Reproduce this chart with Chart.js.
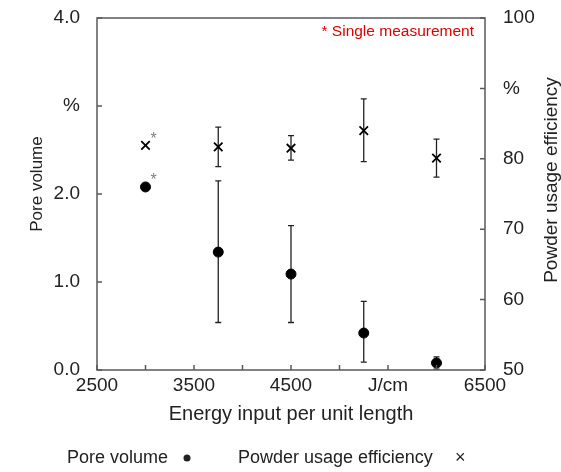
<!DOCTYPE html>
<html>
<head>
<meta charset="utf-8">
<script src="https://cdn.jsdelivr.net/npm/chart.js@4.4.1/dist/chart.umd.min.js"></script>
<style>
  html, body { margin: 0; padding: 0; background: #fff; }
  #wrap { width: 561px; height: 472px; }
</style>
</head>
<body>
<div id="wrap"><canvas id="chart" width="561" height="472"></canvas></div>
<script>
// datos
const energy = [3000, 3750, 4500, 5250, 6000];
const poreVolume = [2.08, 1.34, 1.09, 0.42, 0.08];
const poreLow = [null, 0.54, 0.54, 0.09, 0.01];
const poreHigh = [null, 2.15, 1.64, 0.78, 0.15];
const powderEff = [81.9, 81.7, 81.5, 84.0, 80.1];
const effLow = [null, 78.9, 79.8, 79.6, 77.4];
const effHigh = [null, 84.5, 83.3, 88.5, 82.8];

const FONT = "'Liberation Sans', Arial, sans-serif";
const TXT = "#222";

// barras de error con las escalas del grafico
const errorBars = {
  id: "errorBars",
  beforeDatasetsDraw(chart) {
    const { ctx, scales } = chart;
    const sets = [
      { low: poreLow, high: poreHigh, y: scales.y },
      { low: effLow, high: effHigh, y: scales.y1 },
    ];
    ctx.save();
    ctx.strokeStyle = "#222";
    ctx.lineWidth = 1.3;
    sets.forEach((s) => {
      energy.forEach((e, i) => {
        if (s.low[i] == null) return;
        const x = scales.x.getPixelForValue(e);
        const y1 = s.y.getPixelForValue(s.low[i]);
        const y2 = s.y.getPixelForValue(s.high[i]);
        ctx.beginPath();
        ctx.moveTo(x, y1); ctx.lineTo(x, y2);
        ctx.moveTo(x - 3, y1); ctx.lineTo(x + 3, y1);
        ctx.moveTo(x - 3, y2); ctx.lineTo(x + 3, y2);
        ctx.stroke();
      });
    });
    ctx.restore();
  },
};

// marco, ticks interiores, textos y leyenda
const decor = {
  id: "decor",
  afterDraw(chart) {
    const { ctx, chartArea: a, scales } = chart;
    ctx.save();
    ctx.strokeStyle = "#595959";
    ctx.lineWidth = 1.5;
    ctx.strokeRect(a.left, a.top, a.right - a.left, a.bottom - a.top);

    ctx.beginPath();
    scales.x.ticks.forEach((t) => {
      const x = scales.x.getPixelForValue(t.value);
      ctx.moveTo(x, a.bottom); ctx.lineTo(x, a.bottom - 5);
    });
    scales.y.ticks.forEach((t) => {
      const y = scales.y.getPixelForValue(t.value);
      ctx.moveTo(a.left, y); ctx.lineTo(a.left + 5, y);
    });
    scales.y1.ticks.forEach((t) => {
      const y = scales.y1.getPixelForValue(t.value);
      ctx.moveTo(a.right, y); ctx.lineTo(a.right - 5, y);
    });
    ctx.stroke();

    // nota en rojo
    ctx.fillStyle = "#e00000";
    ctx.font = "15.5px " + FONT;
    ctx.textAlign = "right";
    ctx.textBaseline = "middle";
    ctx.fillText("* Single measurement", a.right - 11, 32);

    // asteriscos grises
    ctx.fillStyle = "#808080";
    ctx.textAlign = "left";
    ctx.font = "16px " + FONT;
    const ax = scales.x.getPixelForValue(energy[0]);
    ctx.fillText("*", ax + 5, scales.y.getPixelForValue(poreVolume[0]) - 6);
    ctx.fillText("*", ax + 5, scales.y1.getPixelForValue(powderEff[0]) - 6);

    ctx.fillStyle = TXT;
    ctx.textAlign = "center";

    // titulo eje izquierdo
    ctx.font = "17px " + FONT;
    ctx.save();
    ctx.translate(37, 184);
    ctx.rotate(-Math.PI / 2);
    ctx.fillText("Pore volume", 0, 0);
    ctx.restore();

    // titulo eje derecho
    ctx.font = "19px " + FONT;
    ctx.save();
    ctx.translate(552, 180);
    ctx.rotate(-Math.PI / 2);
    ctx.fillText("Powder usage efficiency", 0, 0);
    ctx.restore();

    // leyenda
    ctx.font = "18px " + FONT;
    ctx.textAlign = "left";
    ctx.fillText("Pore volume", 67, 458);
    ctx.beginPath();
    ctx.arc(187, 458, 3.5, 0, Math.PI * 2);
    ctx.fill();
    ctx.fillText("Powder usage efficiency", 238, 458);
    ctx.fillText("\u00d7", 455, 458);
    ctx.restore();
  },
};

// ancho fijo del eje y sin relleno extra arriba/abajo
function fixY(width) {
  return (s) => {
    s.width = width;
    s.paddingTop = 0;
    s.paddingBottom = 0;
  };
}

new Chart(document.getElementById("chart"), {
  type: "scatter",
  data: {
    datasets: [
      {
        label: "Pore volume",
        data: energy.map((e, i) => ({ x: e, y: poreVolume[i] })),
        yAxisID: "y",
        pointStyle: "circle",
        pointRadius: 5,
        backgroundColor: "#000",
        borderColor: "#000",
      },
      {
        label: "Powder usage efficiency",
        data: energy.map((e, i) => ({ x: e, y: powderEff[i] })),
        yAxisID: "y1",
        pointStyle: "crossRot",
        pointRadius: 6,
        borderWidth: 1.8,
        borderColor: "#000",
        backgroundColor: "#000",
      },
    ],
  },
  options: {
    responsive: false,
    animation: false,
    layout: { padding: { top: 18, bottom: 42, left: 0, right: 0 } },
    plugins: { legend: { display: false }, tooltip: { enabled: false } },
    scales: {
      x: {
        type: "linear",
        min: 2500,
        max: 6500,
        afterFit: (s) => { s.height = 60; },
        grid: { display: false, drawTicks: false },
        border: { display: false },
        ticks: {
          stepSize: 500,
          autoSkip: false,
          maxRotation: 0,
          padding: 4,
          color: TXT,
          font: { family: FONT, size: 19 },
          callback: (v) => (v === 5500 ? "J/cm" : v % 1000 === 500 ? String(v) : ""),
        },
        title: {
          display: true,
          text: "Energy input per unit length",
          color: TXT,
          font: { family: FONT, size: 20, lineHeight: 1 },
          padding: { top: 0, bottom: 6 },
        },
      },
      y: {
        position: "left",
        min: 0,
        max: 4,
        afterFit: fixY(97),
        grid: { display: false, drawTicks: false },
        border: { display: false },
        ticks: {
          stepSize: 1,
          padding: 17,
          color: TXT,
          font: { family: FONT, size: 19 },
          callback: (v) => (v === 3 ? "%" : v.toFixed(1)),
        },
      },
      y1: {
        position: "right",
        min: 50,
        max: 100,
        afterFit: fixY(76),
        grid: { display: false, drawTicks: false },
        border: { display: false },
        ticks: {
          stepSize: 10,
          padding: 18,
          color: TXT,
          font: { family: FONT, size: 19 },
          callback: (v) => (v === 90 ? "%" : String(v)),
        },
      },
    },
  },
  plugins: [errorBars, decor],
});
</script>
</body>
</html>
